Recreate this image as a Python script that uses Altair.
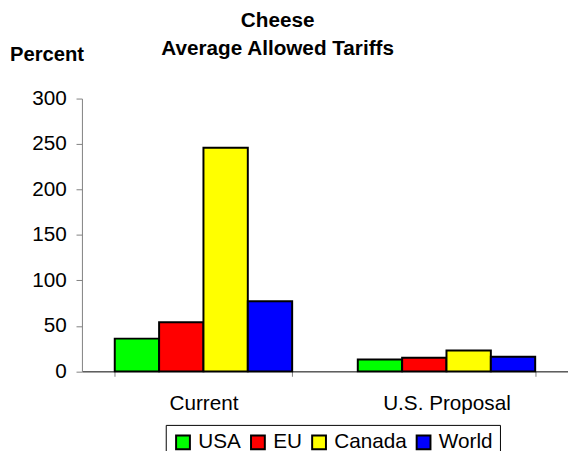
import altair as alt
import pandas as pd

categories = ["Current", "U.S. Proposal"]
series = ["USA", "EU", "Canada", "World"]
colors = ["#00FF00", "#FF0000", "#FFFF00", "#0000FF"]
current = [36, 54, 246, 77]
proposal = [13, 15, 23, 16]
y_ticks = [0, 50, 100, 150, 200, 250, 300]
y_title = ["Percent"]

rows = []
for cat, vals in zip(categories, [current, proposal]):
    for s, v in zip(series, vals):
        rows.append({"period": cat, "region": s, "value": v})
df = pd.DataFrame(rows)

bars = alt.Chart(df).mark_bar(stroke="black", strokeWidth=2).encode(
    x=alt.X("period:N", sort=categories,
            scale=alt.Scale(paddingInner=0.27, paddingOuter=0.135),
            axis=alt.Axis(title=None, labelAngle=0, tickBand="extent", tickSize=5,
                          labelPadding=17, labelFontSize=21, labelColor="black",
                          domainColor="black", domainWidth=1, tickColor="#808080")),
    xOffset=alt.XOffset("region:N", sort=series,
                        scale=alt.Scale(paddingInner=0, paddingOuter=0)),
    y=alt.Y("value:Q", scale=alt.Scale(domain=[0, 300], nice=False),
            axis=alt.Axis(values=y_ticks, grid=False, tickSize=6, labelPadding=10,
                          labelFontSize=21, labelColor="black",
                          domainColor="#808080", tickColor="#808080", title=None)),
    color=alt.Color("region:N", sort=series,
                    scale=alt.Scale(domain=series, range=colors),
                    legend=alt.Legend(title=None, orient="none", legendX=85, legendY=331,
                                      direction="horizontal", columns=4,
                                      labelFontSize=21, labelColor="black",
                                      symbolType="square", symbolSize=196,
                                      symbolStrokeColor="black", symbolStrokeWidth=2,
                                      symbolOpacity=1, strokeColor="black",
                                      fillColor="white", padding=7,
                                      columnPadding=5, labelOffset=5)),
)

ytitle = alt.Chart(pd.DataFrame({"t": y_title})).mark_text(
    fontSize=20.5, fontWeight="bold", color="black", align="left", baseline="alphabetic"
).encode(text="t:N", x=alt.value(-73), y=alt.value(-38))

chart = alt.layer(bars, ytitle).properties(
    width=493,
    height=276.7,
    title=alt.Title(["Cheese", "Average Allowed Tariffs"], fontSize=21, fontWeight="bold",
                    color="black", anchor="middle", frame="group", dx=-48, dy=41,
                    offset=27, lineHeight=29),
    autosize=alt.AutoSizeParams(type="none"),
    padding={"left": 75, "top": 88.7, "right": 0, "bottom": 78},
).configure(font="Liberation Sans").configure_view(stroke=None)

chart.save("out.html", embed_options={"renderer": "svg", "actions": False})
